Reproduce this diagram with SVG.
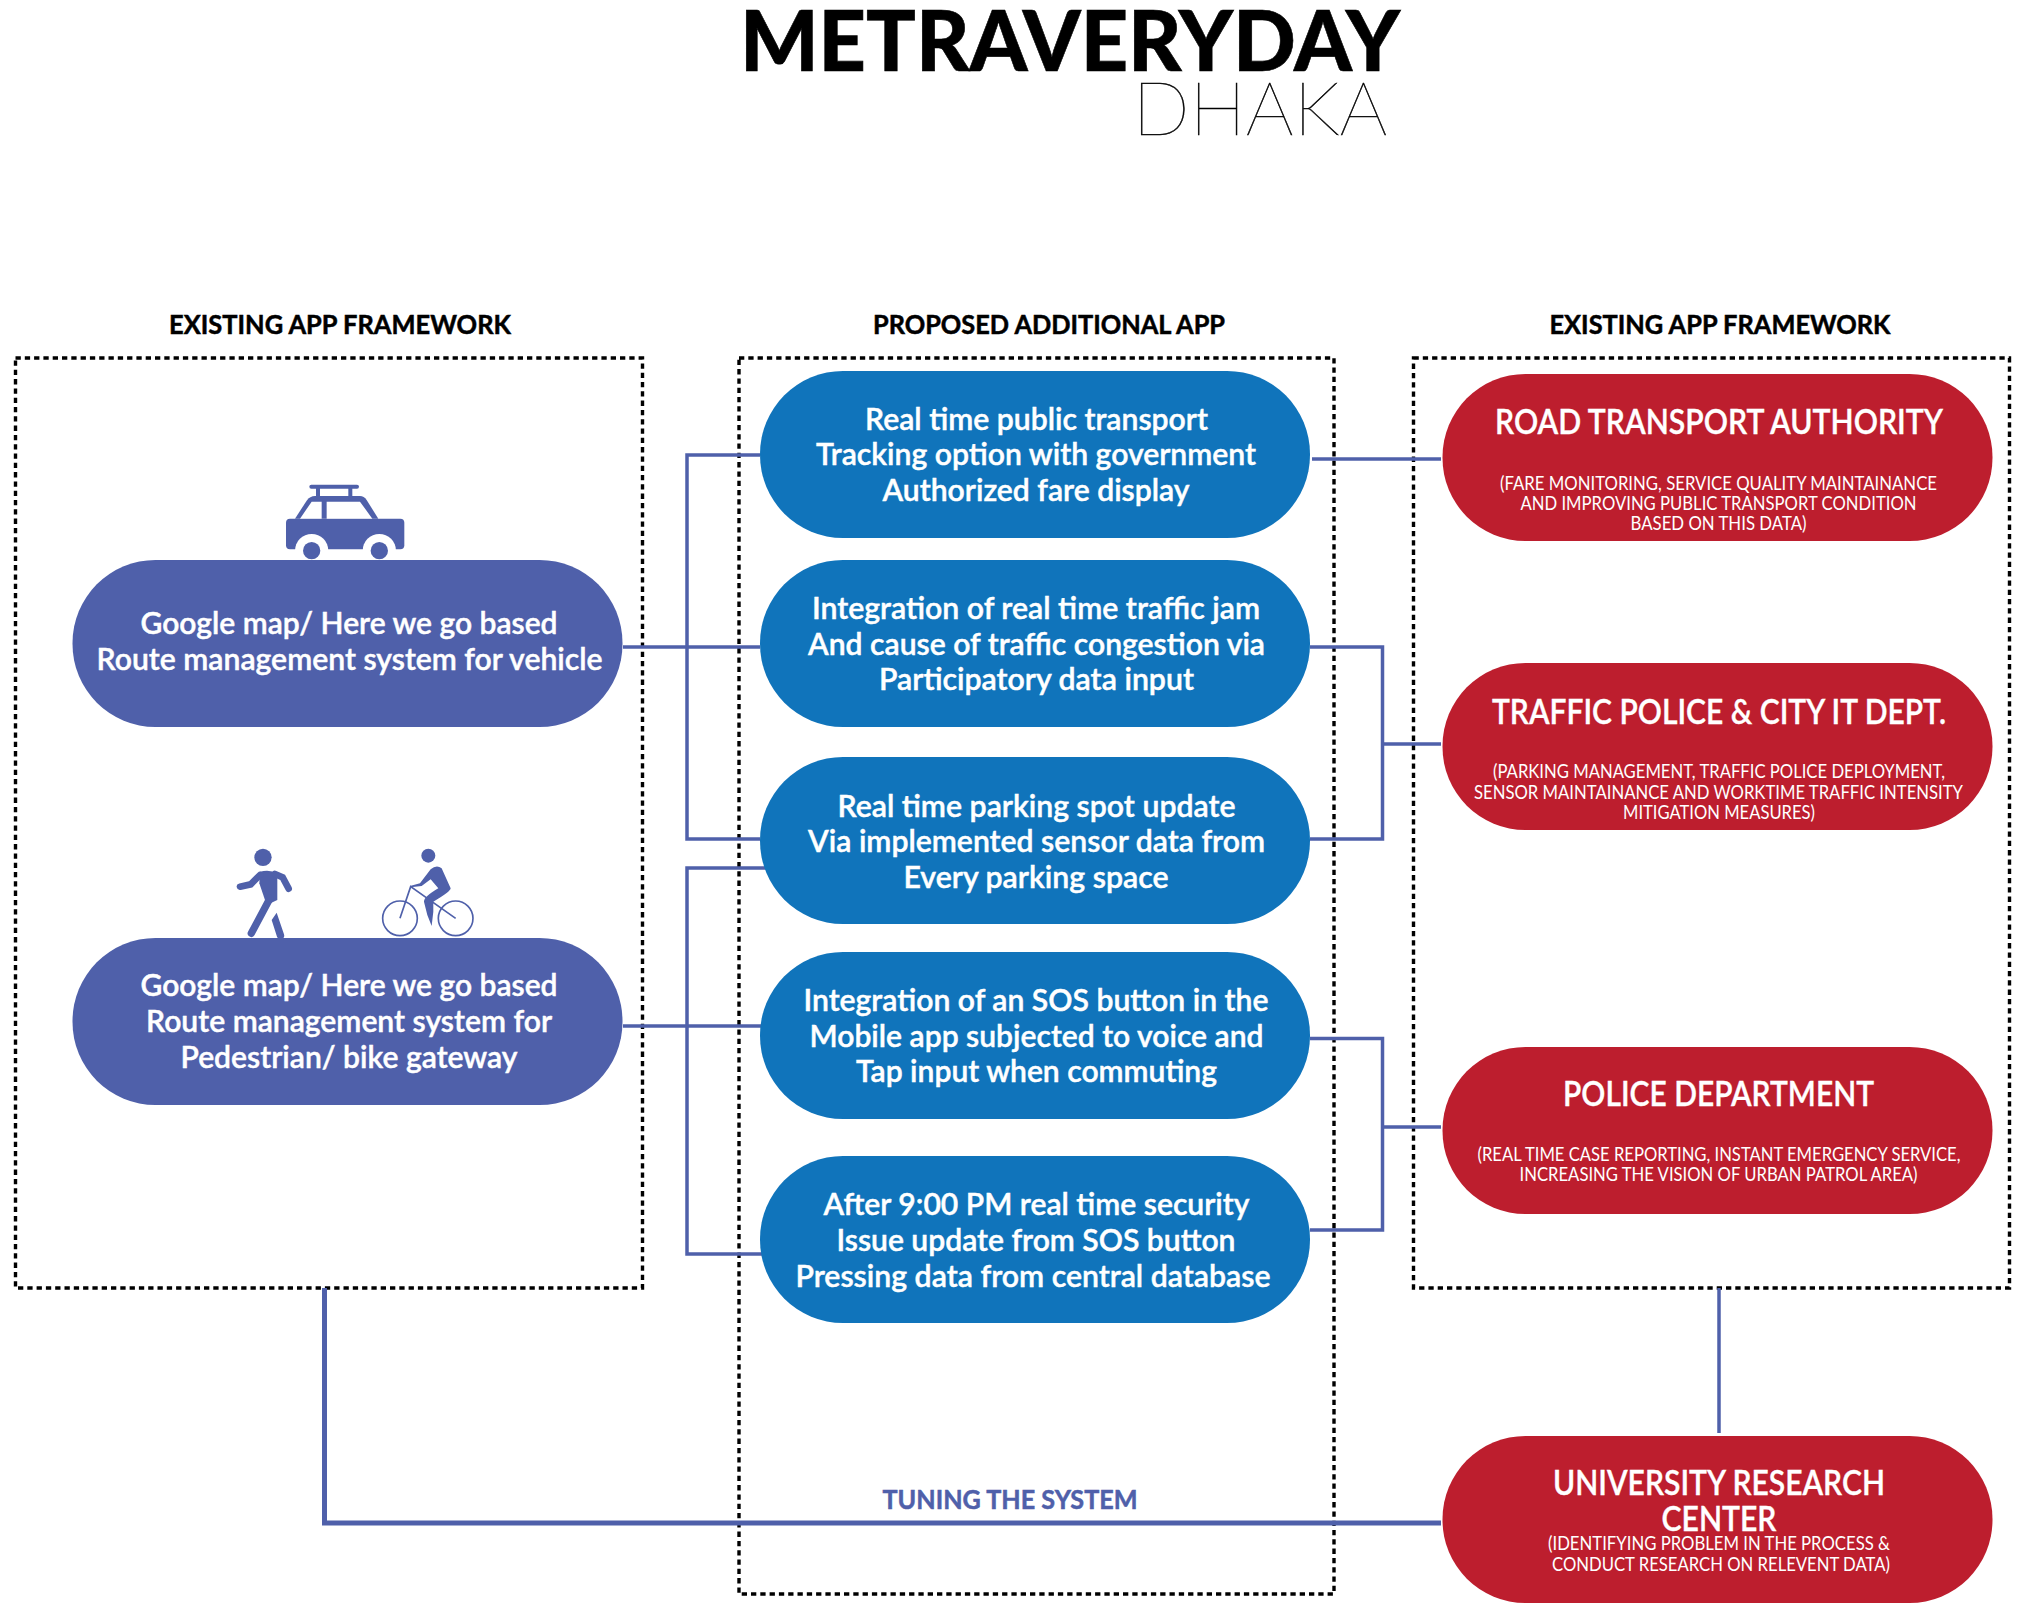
<svg xmlns="http://www.w3.org/2000/svg" width="2026" height="1611" viewBox="0 0 2026 1611">
<style>
text{font-family:Lato,"Liberation Sans",sans-serif;text-anchor:middle}
.t{font-size:31px;font-weight:600;fill:#fff;stroke:#fff;stroke-width:.45}
.h{font-size:34px;font-weight:600;fill:#fff;stroke:#fff;stroke-width:.35}
.s{font-size:20px;fill:#fff}
.c{font-size:26px;font-weight:700;fill:#000;stroke:#000;stroke-width:.5}
.pu{fill:#4f60aa}.bl{fill:#1074bb}.re{fill:#bd1e2e}
.d{fill:none;stroke:#000;stroke-width:3.4;stroke-dasharray:5.3 4}
.l{fill:none;stroke:#4f60aa;stroke-width:3.5}
.ws{fill:none;stroke:#4f60aa;stroke-linecap:round}
</style>
<rect width="2026" height="1611" fill="#fff"/>
<text x="1070" y="71" lengthAdjust="spacingAndGlyphs" textLength="660" style="font-size:83px;font-weight:900;fill:#000;stroke:#000;stroke-width:.6">METRAVERYDAY</text>
<text x="1260" y="135" lengthAdjust="spacingAndGlyphs" textLength="255" style="font-size:74px;font-weight:200;fill:#000;stroke:#000;stroke-width:.5">DHAKA</text>
<text class="c" x="340" y="334" lengthAdjust="spacingAndGlyphs" textLength="342">EXISTING APP FRAMEWORK</text>
<text class="c" x="1049" y="334" lengthAdjust="spacingAndGlyphs" textLength="352">PROPOSED ADDITIONAL APP</text>
<text class="c" x="1720" y="334" lengthAdjust="spacingAndGlyphs" textLength="341">EXISTING APP FRAMEWORK</text>
<g id="frames">
<rect class="d" x="15.5" y="358" width="627" height="930"/>
<rect class="d" x="739" y="358" width="595" height="1236"/>
<rect class="d" x="1413.5" y="358" width="596" height="930"/>
</g>
<g id="connectors">
<path class="l" d="M760 455H687V839H760"/>
<path class="l" d="M766 868H687V1254H762"/>
<path class="l" d="M623 647H760"/>
<path class="l" d="M623 1026H762"/>
<path class="l" d="M1312 459H1441"/>
<path class="l" d="M1310 647H1382.5V839H1310M1382.5 744H1441"/>
<path class="l" d="M1310 1038.5H1382.5V1230H1310M1382.5 1127H1441"/>
<path class="l" d="M1719 1288V1433"/>
<path class="l" style="stroke-width:5" d="M324.5 1288V1523H1441"/>
</g>
<text x="1010" y="1509" lengthAdjust="spacingAndGlyphs" textLength="255" style="font-size:26px;font-weight:700;fill:#4f60aa;stroke:#4f60aa;stroke-width:.5">TUNING THE SYSTEM</text>
<g id="car" transform="translate(260 470) scale(.3333)">
<rect class="pu" x="78" y="146" width="355" height="92" rx="12"/>
<path class="pu" d="M105 146L140 92Q150 78 165 78H300Q312 78 320 90L355 146Z"/>
<path fill="#fff" d="M120 146L155 95H185V146ZM200 95H300L337 146H200Z"/>
<rect class="pu" x="148" y="44" width="149" height="12" rx="6"/>
<rect class="pu" x="168" y="50" width="12" height="32"/><rect class="pu" x="265" y="50" width="12" height="32"/>
<circle cx="155" cy="242" r="50" fill="#fff"/><circle cx="358" cy="242" r="50" fill="#fff"/>
<circle class="pu" cx="155" cy="242" r="26"/><circle class="pu" cx="358" cy="242" r="26"/>
</g>
<g id="walker" transform="translate(220 840) scale(.3333)">
<circle class="pu" cx="129" cy="52" r="26"/>
<path class="pu" d="M120 95Q150 88 172 100L172 180L140 195L118 130Z"/>
<path class="ws" stroke-width="20" d="M60 140L92 133L120 105"/>
<path class="ws" stroke-width="20" d="M165 102L188 112L206 146"/>
<path class="ws" stroke-width="22" d="M150 175L94 280"/>
<path class="pu" d="M170 218L192 283A11 11 0 0 1 171 290L155 240Z"/>
</g>
<g id="cyclist" transform="translate(220 840) scale(.3333)">
<circle class="pu" cx="625" cy="47" r="21"/>
<circle cx="540" cy="235" r="52" fill="none" stroke="#4f60aa" stroke-width="5"/>
<circle cx="707" cy="235" r="52" fill="none" stroke="#4f60aa" stroke-width="5"/>
<path fill="none" stroke="#4f60aa" stroke-width="5" d="M540 235L572 140L707 235"/>
<path class="pu" d="M632 88Q650 72 665 85L692 145Q692 155 640 185L640 215L635 258L622 225L612 185Q612 170 655 145L632 118L605 138L572 142L570 138L600 130Z"/>
</g>
<g id="n1"><rect class="pu" x="72.5" y="560" width="550" height="167" rx="83"/>
<text class="t" x="349" y="634" lengthAdjust="spacingAndGlyphs" textLength="417">Google map/ Here we go based</text><text class="t" x="349.6" y="670" lengthAdjust="spacingAndGlyphs" textLength="506">Route management system for vehicle</text></g>
<g id="n2"><rect class="pu" x="72.5" y="938" width="550" height="167" rx="83"/>
<text class="t" x="349" y="996" lengthAdjust="spacingAndGlyphs" textLength="417">Google map/ Here we go based</text><text class="t" x="349" y="1032" lengthAdjust="spacingAndGlyphs" textLength="406">Route management system for</text><text class="t" x="349" y="1068" lengthAdjust="spacingAndGlyphs" textLength="337">Pedestrian/ bike gateway</text></g>
<g id="b1"><rect class="bl" x="760" y="371" width="550" height="167" rx="83"/>
<text class="t" x="1036.5" y="430" lengthAdjust="spacingAndGlyphs" textLength="343">Real time public transport</text><text class="t" x="1036" y="465" lengthAdjust="spacingAndGlyphs" textLength="440">Tracking option with government</text><text class="t" x="1036" y="501" lengthAdjust="spacingAndGlyphs" textLength="307">Authorized fare display</text></g>
<g id="b2"><rect class="bl" x="760" y="560" width="550" height="167" rx="83"/>
<text class="t" x="1036" y="619" lengthAdjust="spacingAndGlyphs" textLength="448">Integration of real time traffic jam</text><text class="t" x="1036.5" y="655" lengthAdjust="spacingAndGlyphs" textLength="457">And cause of traffic congestion via</text><text class="t" x="1036.5" y="690" lengthAdjust="spacingAndGlyphs" textLength="315">Participatory data input</text></g>
<g id="b3"><rect class="bl" x="760" y="757" width="550" height="167" rx="83"/>
<text class="t" x="1036.5" y="816.5" lengthAdjust="spacingAndGlyphs" textLength="398">Real time parking spot update</text><text class="t" x="1036.5" y="852" lengthAdjust="spacingAndGlyphs" textLength="457">Via implemented sensor data from</text><text class="t" x="1036" y="888" lengthAdjust="spacingAndGlyphs" textLength="265">Every parking space</text></g>
<g id="b4"><rect class="bl" x="760" y="952" width="550" height="167" rx="83"/>
<text class="t" x="1036" y="1011" lengthAdjust="spacingAndGlyphs" textLength="465">Integration of an SOS button in the</text><text class="t" x="1036.5" y="1047" lengthAdjust="spacingAndGlyphs" textLength="454">Mobile app subjected to voice and</text><text class="t" x="1036.5" y="1082" lengthAdjust="spacingAndGlyphs" textLength="361">Tap input when commuting</text></g>
<g id="b5"><rect class="bl" x="760" y="1156" width="550" height="167" rx="83"/>
<text class="t" x="1036.5" y="1215" lengthAdjust="spacingAndGlyphs" textLength="426">After 9:00 PM real time security</text><text class="t" x="1036" y="1251" lengthAdjust="spacingAndGlyphs" textLength="399">Issue update from SOS button</text><text class="t" x="1033" y="1287" lengthAdjust="spacingAndGlyphs" textLength="475">Pressing data from central database</text></g>
<g id="r1"><rect class="re" x="1442.5" y="374" width="550" height="167" rx="83"/>
<text class="h" x="1719" y="434" lengthAdjust="spacingAndGlyphs" textLength="448">ROAD TRANSPORT AUTHORITY</text><text class="s" x="1718.5" y="490" lengthAdjust="spacingAndGlyphs" textLength="437">(FARE MONITORING, SERVICE QUALITY MAINTAINANCE</text><text class="s" x="1718.5" y="510" lengthAdjust="spacingAndGlyphs" textLength="396">AND IMPROVING PUBLIC TRANSPORT CONDITION</text><text class="s" x="1718.5" y="530" lengthAdjust="spacingAndGlyphs" textLength="176">BASED ON THIS DATA)</text></g>
<g id="r2"><rect class="re" x="1442.5" y="663" width="550" height="167" rx="83"/>
<text class="h" x="1719" y="724" lengthAdjust="spacingAndGlyphs" textLength="454">TRAFFIC POLICE &amp; CITY IT DEPT.</text><text class="s" x="1719" y="778" lengthAdjust="spacingAndGlyphs" textLength="452">(PARKING MANAGEMENT, TRAFFIC POLICE DEPLOYMENT,</text><text class="s" x="1718.5" y="798.5" lengthAdjust="spacingAndGlyphs" textLength="489">SENSOR MAINTAINANCE AND WORKTIME TRAFFIC INTENSITY</text><text class="s" x="1719" y="818.5" lengthAdjust="spacingAndGlyphs" textLength="192">MITIGATION MEASURES)</text></g>
<g id="r3"><rect class="re" x="1442.5" y="1047" width="550" height="167" rx="83"/>
<text class="h" x="1718.5" y="1106" lengthAdjust="spacingAndGlyphs" textLength="311">POLICE DEPARTMENT</text><text class="s" x="1719" y="1161" lengthAdjust="spacingAndGlyphs" textLength="483">(REAL TIME CASE REPORTING, INSTANT EMERGENCY SERVICE,</text><text class="s" x="1718.5" y="1181" lengthAdjust="spacingAndGlyphs" textLength="398">INCREASING THE VISION OF URBAN PATROL AREA)</text></g>
<g id="r4"><rect class="re" x="1442.5" y="1436" width="550" height="167" rx="83"/>
<text class="h" x="1719" y="1495" lengthAdjust="spacingAndGlyphs" textLength="332">UNIVERSITY RESEARCH</text><text class="h" x="1719" y="1531" lengthAdjust="spacingAndGlyphs" textLength="115">CENTER</text><text class="s" x="1719" y="1550" lengthAdjust="spacingAndGlyphs" textLength="342">(IDENTIFYING PROBLEM IN THE PROCESS &amp;</text><text class="s" x="1721" y="1570.5" lengthAdjust="spacingAndGlyphs" textLength="338">CONDUCT RESEARCH ON RELEVENT DATA)</text></g>
</svg>
